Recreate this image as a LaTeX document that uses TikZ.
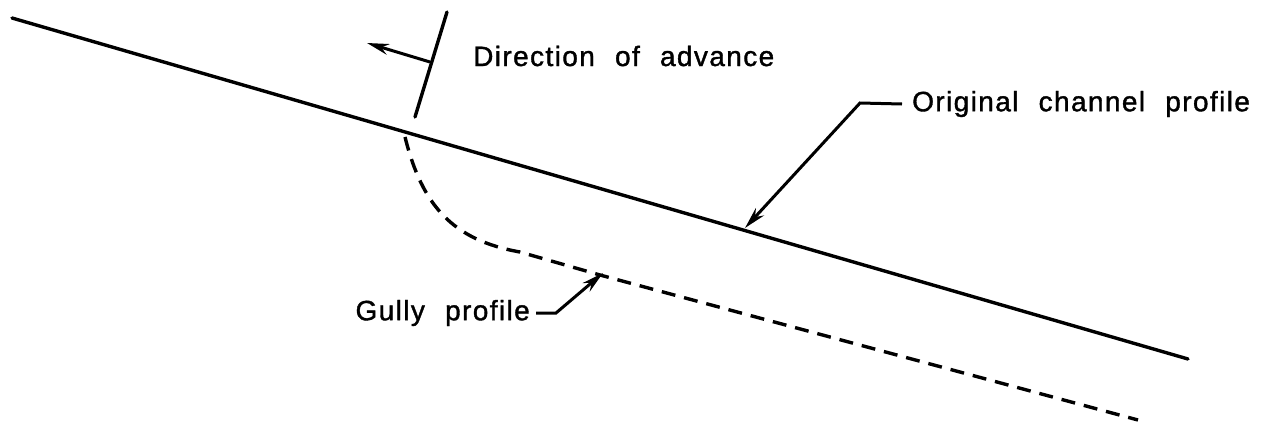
\documentclass[tikz,border=0pt]{standalone}
\usepackage{fontspec}
\setmainfont{Liberation Sans}[LetterSpace=5, WordSpace=2.2, FakeBold=1.3]
\usetikzlibrary{arrows.meta}
\tikzset{
  prof/.style={line width=3.4pt, line cap=round},
  gully/.style={line width=3.4pt, dash pattern=on 14pt off 9pt},
  lbl/.style={font=\fontsize{28}{30}\selectfont, inner sep=0pt, anchor=west},
  lead/.style={line width=3pt, -{Stealth[length=22pt,width=11pt]}},
}
\begin{document}
\begin{tikzpicture}[x=1pt,y=-1pt]
\useasboundingbox (0,0) rectangle (1264,426);
% original channel profile
\coordinate (p0) at (12,18);
\coordinate (p1) at (1188,359);
\draw[prof] (p0) -- (p1);
% gully profile
\coordinate (g0) at (405,137);
\coordinate (g1) at (600,275);
\coordinate (g2) at (1138,420);
\draw[gully] (g0) .. controls (422,205) and (452,240) .. (520,252) -- (g1) -- (g2);
% direction of advance
\coordinate (t0) at (415,117);
\coordinate (t1) at (447,12);
\coordinate (tm) at (430,62);
\coordinate (ta) at (367,43);
\draw[prof] (t0) -- (t1);
\draw[lead] (tm) -- (ta);
\node[lbl] (dir) at (473,56) {Direction of advance};
% labels
\node[lbl] (orig) at (912,104) {Original channel profile};
\coordinate (ok) at (860,103);
\coordinate (otip) at (745,228);
\draw[lead] ([xshift=-10pt]orig.west) -- (ok) -- (otip);
\node[lbl, anchor=east] (gl) at (530,313) {Gully profile};
\coordinate (gk) at (556,313);
\coordinate (gtip) at (603,273);
\draw[lead] ([xshift=6pt]gl.east) -- (gk) -- (gtip);
\end{tikzpicture}
\end{document}
